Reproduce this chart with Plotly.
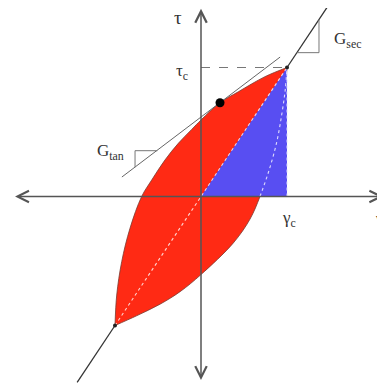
import plotly.graph_objects as go

# 正規化した座標: γ/γc, τ/τc
gamma_c = 1.0
tau_c = 1.0

# ループ上側の枝 (負のピーク → 正のピーク)
upper_gamma = [-1.0, -0.98, -0.922, -0.826, -0.69, -0.573, -0.419, -0.264, -0.108, 0.0, 0.221, 0.434, 0.744, 1.0]
upper_tau = [-1.0, -0.764, -0.505, -0.247, 0.0, 0.128, 0.283, 0.412, 0.52, 0.593, 0.727, 0.812, 0.929, 1.0]

# ループ下側の枝 (負のピーク → 正のピーク)
lower_gamma = [-1.0, -0.75, -0.477, -0.244, 0.0, 0.376, 0.57, 0.686, 0.79, 0.88, 0.94, 0.98, 1.0]
lower_tau = [-1.0, -0.925, -0.835, -0.738, -0.605, -0.36, -0.175, 0.0, 0.2, 0.42, 0.64, 0.83, 1.0]

# 接線 (G_tan) と接点
tan_point = (0.221, 0.727)
tan_gamma = [-0.92, 0.92]
tan_tau = [0.151, 1.081]
tan_tri_gamma = [-0.508, -0.767, -0.767]
tan_tri_tau = [0.355, 0.355, 0.227]

# 割線 (G_sec) の延長部分
sec_hi = 1.47
sec_lo = -1.44
sec_tri_gamma = [1.115, 1.372, 1.372]
sec_tri_tau = [1.115, 1.115, 1.372]

# 軸の範囲
x_axis_ends = [-2.18, 2.12]
y_axis_ends = [-1.435, 1.455]

RED = "rgb(255,42,20)"
BLUE = "rgb(88,78,242)"
GRAY = "#555555"
FONT = "Liberation Serif"

fig = go.Figure()

# ヒステリシスループ (赤)
fig.add_trace(go.Scatter(x=upper_gamma, y=upper_tau, mode="lines",
                         line=dict(color="#7a3a30", width=0.8, shape="spline")))
fig.add_trace(go.Scatter(x=lower_gamma, y=lower_tau, mode="lines", fill="tonexty",
                         fillcolor=RED,
                         line=dict(color="#7a3a30", width=0.8, shape="spline")))

# 割線下の三角形 (青)
fig.add_trace(go.Scatter(x=[0, gamma_c, gamma_c, 0], y=[0, tau_c, 0, 0], mode="lines",
                         fill="toself", fillcolor=BLUE, line=dict(width=0)))

# ループ内の白い点線
lg = [g for g, t in zip(lower_gamma, lower_tau) if t >= 0]
lt = [t for t in lower_tau if t >= 0]
fig.add_trace(go.Scatter(x=lg, y=lt, mode="lines",
                         line=dict(color="rgba(255,255,255,0.8)", width=1.1, dash="dot", shape="spline")))
fig.add_trace(go.Scatter(x=[-gamma_c, gamma_c], y=[-tau_c, tau_c], mode="lines",
                         line=dict(color="rgba(255,255,255,0.8)", width=1.1, dash="dot")))
fig.add_trace(go.Scatter(x=[gamma_c, gamma_c], y=[0, tau_c], mode="lines",
                         line=dict(color="rgba(220,220,255,0.9)", width=1.1, dash="dot")))

# τc の破線
fig.add_trace(go.Scatter(x=[0, gamma_c], y=[tau_c, tau_c], mode="lines",
                         line=dict(color="#777777", width=1, dash="dash")))

# 接線と三角形
fig.add_trace(go.Scatter(x=tan_gamma, y=tan_tau, mode="lines",
                         line=dict(color="#666666", width=1)))
fig.add_trace(go.Scatter(x=tan_tri_gamma, y=tan_tri_tau, mode="lines",
                         line=dict(color="#777777", width=1)))

# 割線の延長と三角形
fig.add_trace(go.Scatter(x=[gamma_c, sec_hi * gamma_c], y=[tau_c, sec_hi * tau_c], mode="lines",
                         line=dict(color="#333333", width=1.3)))
fig.add_trace(go.Scatter(x=[-gamma_c, sec_lo * gamma_c], y=[-tau_c, sec_lo * tau_c], mode="lines",
                         line=dict(color="#333333", width=1.3)))
fig.add_trace(go.Scatter(x=sec_tri_gamma, y=sec_tri_tau, mode="lines",
                         line=dict(color="#777777", width=1)))

# 接点とピーク
fig.add_trace(go.Scatter(x=[tan_point[0]], y=[tan_point[1]], mode="markers",
                         marker=dict(color="black", size=9)))
fig.add_trace(go.Scatter(x=[gamma_c, -gamma_c], y=[tau_c, -tau_c], mode="markers",
                         marker=dict(color="#222222", size=4)))

# 座標軸 (両端矢印)
axis_arrow = dict(xref="x", yref="y", axref="x", ayref="y", text="", showarrow=True,
                  arrowhead=5, startarrowhead=5, arrowside="end+start",
                  arrowsize=1.5, startarrowsize=1.5, arrowwidth=1.5, arrowcolor=GRAY)
fig.add_annotation(x=x_axis_ends[1], y=0, ax=x_axis_ends[0], ay=0, **axis_arrow)
fig.add_annotation(x=0, y=y_axis_ends[1], ax=0, ay=y_axis_ends[0], **axis_arrow)

# ラベル
labels = [
    ("τ", -0.267, 1.384, "center", 19),
    ("τ<sub>c</sub>", -0.22, 0.965, "center", 17),
    ("γ<sub>c</sub>", 1.023, -0.174, "center", 17),
    ("γ", 2.0, -0.167, "left", 17),
    ("G<sub>sec</sub>", 1.709, 1.213, "center", 17),
    ("G<sub>tan</sub>", -1.058, 0.345, "center", 17),
]
for txt, gx, ty, anchor, size in labels:
    fig.add_annotation(x=gx, y=ty, text=txt, showarrow=False, xanchor=anchor,
                       font=dict(family=FONT, size=size, color="#333333"))

# ページ余白 (8px) を考慮して 377px で描画
fig.update_layout(
    width=377, height=377,
    margin=dict(l=0, r=0, t=0, b=0),
    paper_bgcolor="white", plot_bgcolor="white",
    showlegend=False,
    xaxis=dict(range=[-2.2442, 2.1395], visible=False, fixedrange=True),
    yaxis=dict(range=[-1.4612, 1.4612], visible=False, fixedrange=True),
)

fig.write_html("out.html")
